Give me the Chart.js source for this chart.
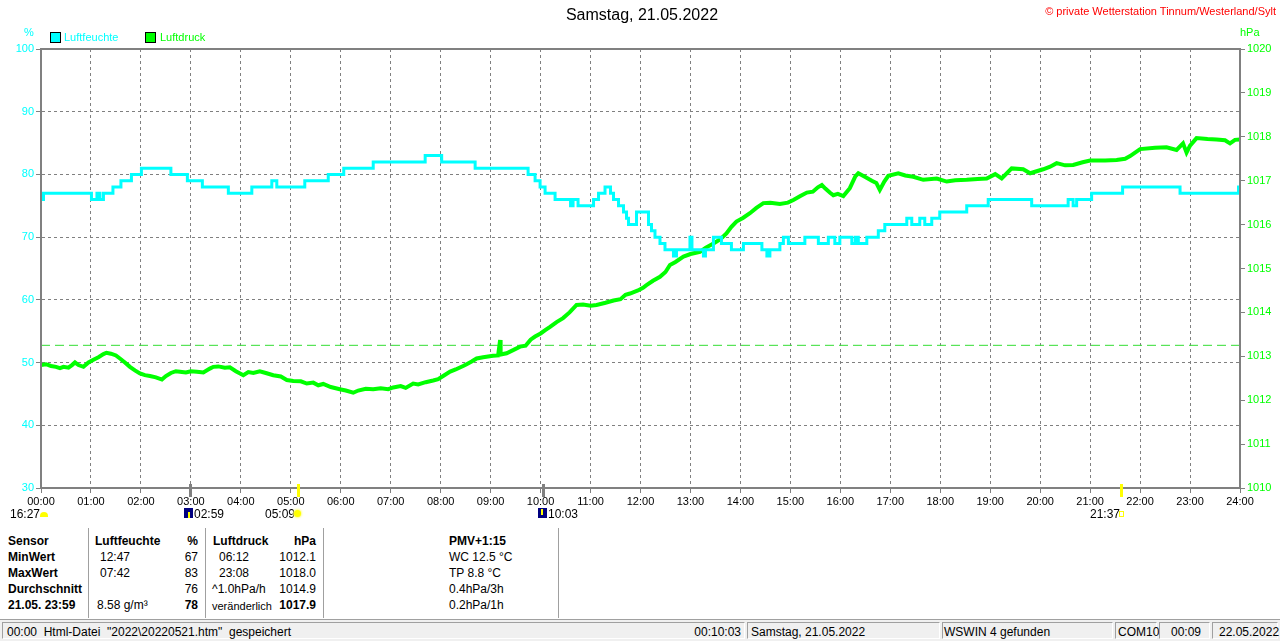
<!DOCTYPE html>
<html><head><meta charset="utf-8">
<script src="https://cdn.jsdelivr.net/npm/chart.js@4/dist/chart.umd.min.js"></script>
<style>
body{margin:0;background:#fff;width:1280px;height:641px;overflow:hidden;position:relative;font-family:"Liberation Sans",Arial,sans-serif;color:#000;}
#wrap{position:absolute;left:0;top:0;width:1280px;height:520px;}
.t{position:absolute;white-space:pre;line-height:12px;font-size:12px;}
.s11{font-size:11px;line-height:11px;}
.b{font-weight:bold;}
.box{position:absolute;width:9px;height:9px;border:1px solid #000;}
.sep{position:absolute;top:528px;height:90px;width:1px;background:#a0a0a0;border-right:1px solid #fff;}
#status{position:absolute;left:0;top:619px;width:1280px;height:22px;background:#f0f0f0;border-top:1px solid #a0a0a0;}
.pan{position:absolute;top:2px;height:17px;border-top:1px solid #a0a0a0;border-left:1px solid #a0a0a0;border-right:1px solid #fff;border-bottom:1px solid #fff;box-sizing:border-box;}
.pan span{position:absolute;top:3px;font-size:12px;line-height:12px;white-space:pre;}
</style></head><body>
<div id="wrap"><canvas id="c"></canvas></div>

<div class="t" style="left:2px;width:1280px;top:7px;text-align:center;font-size:16px;line-height:16px;">Samstag, 21.05.2022</div>
<div class="t s11" style="right:4px;top:6px;color:#ff0000;">© private Wetterstation Tinnum/Westerland/Sylt</div>

<div class="t s11" style="left:24px;top:27px;color:#00ffff;">%</div>
<div class="t s11" style="left:1240px;top:27px;color:#00ff00;">hPa</div>
<div class="box" style="left:50px;top:32px;background:#00ffff;"></div>
<div class="t s11" style="left:64px;top:32px;color:#00ffff;">Luftfeuchte</div>
<div class="box" style="left:145px;top:32px;background:#00ff00;"></div>
<div class="t s11" style="left:160px;top:32px;color:#00ff00;">Luftdruck</div>

<!-- sun / moon row -->
<div class="t" style="left:10px;top:508px;">16:27</div>
<div style="position:absolute;left:40px;top:512px;width:8px;height:5px;background:#ffff00;border-radius:4px 4px 0 0;"></div>
<div style="position:absolute;left:184px;top:508px;width:9px;height:10px;background:#000080;"></div>
<div style="position:absolute;left:188px;top:512px;width:2px;height:6px;background:#ffff00;"></div>
<div class="t" style="left:194px;top:508px;">02:59</div>
<div class="t" style="left:265px;top:508px;">05:09</div>
<div style="position:absolute;left:294px;top:510px;width:7px;height:7px;background:#ffff00;border-radius:50%;box-shadow:0 0 2px 1px #ffff80;"></div>
<div style="position:absolute;left:538px;top:508px;width:9px;height:10px;background:#000080;"></div>
<div style="position:absolute;left:541px;top:509px;width:2px;height:6px;background:#ffff00;"></div>
<div class="t" style="left:548px;top:508px;">10:03</div>
<div class="t" style="left:1090px;top:508px;">21:37</div>
<div style="position:absolute;left:1119px;top:511px;width:3px;height:4px;border:1px solid #ffff00;"></div>

<!-- table -->
<div class="sep" style="left:88px;"></div>
<div class="sep" style="left:205px;"></div>
<div class="sep" style="left:323px;"></div>
<div class="sep" style="left:558px;"></div>

<div class="t b" style="left:8px;top:535px;">Sensor</div>
<div class="t b" style="left:8px;top:551px;">MinWert</div>
<div class="t b" style="left:8px;top:567px;">MaxWert</div>
<div class="t b" style="left:8px;top:583px;">Durchschnitt</div>
<div class="t b" style="left:8px;top:599px;">21.05. 23:59</div>

<div class="t b" style="left:95px;top:535px;">Luftfeuchte</div>
<div class="t b" style="right:1082px;top:535px;">%</div>
<div class="t" style="left:100px;top:551px;">12:47</div>
<div class="t" style="right:1082px;top:551px;">67</div>
<div class="t" style="left:100px;top:567px;">07:42</div>
<div class="t" style="right:1082px;top:567px;">83</div>
<div class="t" style="right:1082px;top:583px;">76</div>
<div class="t" style="left:97px;top:599px;">8.58 g/m³</div>
<div class="t b" style="right:1082px;top:599px;">78</div>

<div class="t b" style="left:213px;top:535px;">Luftdruck</div>
<div class="t b" style="right:964px;top:535px;">hPa</div>
<div class="t" style="left:219px;top:551px;">06:12</div>
<div class="t" style="right:964px;top:551px;">1012.1</div>
<div class="t" style="left:219px;top:567px;">23:08</div>
<div class="t" style="right:964px;top:567px;">1018.0</div>
<div class="t" style="left:212px;top:583px;">^1.0hPa/h</div>
<div class="t" style="right:964px;top:583px;">1014.9</div>
<div class="t" style="left:212px;top:600px;font-size:11px;">veränderlich</div>
<div class="t b" style="right:964px;top:599px;">1017.9</div>

<div class="t b" style="left:449px;top:535px;">PMV+1:15</div>
<div class="t" style="left:449px;top:551px;">WC 12.5 °C</div>
<div class="t" style="left:449px;top:567px;">TP 8.8 °C</div>
<div class="t" style="left:449px;top:583px;">0.4hPa/3h</div>
<div class="t" style="left:449px;top:599px;">0.2hPa/1h</div>

<div id="status">
  <div class="pan" style="left:2px;width:743px;"><span style="left:4px;">00:00  Html-Datei  "2022\20220521.htm"  gespeichert</span><span style="right:3px;">00:10:03</span></div>
  <div class="pan" style="left:747px;width:193px;"><span style="left:3px;">Samstag, 21.05.2022</span></div>
  <div class="pan" style="left:942px;width:171px;"><span style="left:1px;">WSWIN 4 gefunden</span></div>
  <div class="pan" style="left:1115px;width:42px;"><span style="left:2px;">COM10</span></div>
  <div class="pan" style="left:1159px;width:51px;"><span style="left:11px;">00:09</span></div>
  <div class="pan" style="left:1212px;width:66px;"><span style="left:6px;">22.05.2022</span></div>
</div>

<script>
// ---- data ----
const hourTicks = [0,1,2,3,4,5,6,7,8,9,10,11,12,13,14,15,16,17,18,19,20,21,22,23,24];
const humidityTicks = [30,40,50,60,70,80,90,100];
const pressureTicks = [1010,1011,1012,1013,1014,1015,1016,1017,1018,1019,1020];

// humidity (%): hour of change, new value
const humTimes = [0,0.05,1.01,1.12,1.18,1.25,1.44,1.6,1.81,2.01,2.6,2.93,3.23,3.75,4.22,4.62,4.72,5.28,5.75,6.06,6.65,7.69,8.02,8.69,9.75,9.89,9.99,10.09,10.29,10.6,10.65,10.75,11.06,11.16,11.29,11.4,11.46,11.56,11.66,11.72,11.76,11.92,12.16,12.22,12.29,12.39,12.49,12.66,12.72,12.76,12.86,12.99,13.03,13.06,13.26,13.3,13.32,13.46,13.62,13.82,14.06,14.43,14.53,14.59,14.79,14.86,14.96,15.29,15.56,15.76,15.89,15.99,16.23,16.3,16.36,16.53,16.76,16.89,17.33,17.43,17.59,17.69,17.83,17.99,18.53,18.96,19.83,20.56,20.66,20.73,21.03,21.65,22.8,23.97,24];
const humValues = [76,77,76,77,76,77,78,79,80,81,80,79,78,77,78,79,78,79,80,81,82,83,82,81,80,79,78,77,76,75,76,75,76,77,78,77,76,75,74,73,72,74,72,71,70,69,68,67,68,68,68,70,68,68,67,68,68,70,69,68,69,68,67,68,69,70,69,70,69,70,69,70,69,70,69,70,71,72,73,72,73,72,73,74,75,76,75,76,75,76,77,78,77,78,78];

// air pressure (hPa)
const presTimes = [0,0.1,0.2,0.3,0.38,0.45,0.55,0.62,0.68,0.75,0.85,0.95,1.05,1.15,1.25,1.31,1.4,1.5,1.58,1.68,1.78,1.88,1.98,2.08,2.18,2.3,2.42,2.5,2.6,2.7,2.78,2.9,3,3.12,3.25,3.38,3.45,3.55,3.68,3.78,3.9,4.05,4.15,4.25,4.38,4.5,4.65,4.8,4.92,5.05,5.2,5.32,5.45,5.55,5.65,5.8,5.98,6.1,6.25,6.35,6.5,6.65,6.8,6.95,7.05,7.2,7.3,7.45,7.55,7.7,7.85,7.95,8.05,8.19,8.3,8.45,8.52,8.62,8.72,8.85,9.05,9.15,9.19,9.2,9.32,9.45,9.59,9.7,9.8,9.89,10,10.1,10.19,10.32,10.45,10.58,10.72,10.85,11,11.12,11.3,11.46,11.6,11.7,11.79,11.95,12.05,12.12,12.25,12.39,12.5,12.59,12.7,12.86,13,13.19,13.3,13.46,13.6,13.72,13.82,13.92,14.05,14.19,14.32,14.46,14.6,14.79,14.95,15.06,15.2,15.33,15.45,15.55,15.63,15.7,15.8,15.86,15.95,16.06,16.19,16.3,16.36,16.49,16.63,16.72,16.79,16.88,16.96,17.16,17.3,17.46,17.66,17.93,18.13,18.3,18.53,18.75,18.93,19.1,19.23,19.43,19.66,19.8,20.06,20.2,20.33,20.5,20.66,20.85,21,21.3,21.53,21.7,21.8,21.9,22,22.3,22.53,22.73,22.86,22.93,23,23.13,23.35,23.53,23.7,23.8,23.9,24];
const presValues = [1012.80,1012.82,1012.78,1012.76,1012.73,1012.76,1012.74,1012.80,1012.86,1012.80,1012.76,1012.86,1012.92,1012.98,1013.05,1013.08,1013.06,1013.02,1012.95,1012.86,1012.76,1012.68,1012.61,1012.57,1012.55,1012.52,1012.47,1012.55,1012.62,1012.66,1012.65,1012.63,1012.66,1012.65,1012.63,1012.72,1012.76,1012.77,1012.74,1012.75,1012.66,1012.57,1012.64,1012.62,1012.66,1012.62,1012.57,1012.54,1012.46,1012.44,1012.43,1012.38,1012.40,1012.34,1012.37,1012.30,1012.25,1012.22,1012.17,1012.22,1012.26,1012.25,1012.27,1012.25,1012.29,1012.32,1012.28,1012.38,1012.36,1012.41,1012.45,1012.48,1012.55,1012.65,1012.70,1012.78,1012.82,1012.88,1012.95,1012.98,1013.01,1013.02,1013.37,1013.04,1013.07,1013.14,1013.22,1013.24,1013.38,1013.45,1013.52,1013.60,1013.67,1013.78,1013.87,1014.00,1014.17,1014.18,1014.15,1014.17,1014.22,1014.27,1014.30,1014.40,1014.43,1014.50,1014.56,1014.62,1014.72,1014.81,1014.92,1015.08,1015.15,1015.27,1015.33,1015.38,1015.47,1015.57,1015.67,1015.80,1015.95,1016.07,1016.15,1016.26,1016.38,1016.49,1016.50,1016.47,1016.50,1016.56,1016.65,1016.73,1016.75,1016.85,1016.90,1016.82,1016.72,1016.67,1016.70,1016.65,1016.83,1017.10,1017.17,1017.09,1017.00,1016.95,1016.79,1016.98,1017.11,1017.17,1017.12,1017.09,1017.02,1017.05,1016.98,1017.01,1017.02,1017.04,1017.05,1017.15,1017.05,1017.28,1017.26,1017.17,1017.26,1017.32,1017.40,1017.35,1017.36,1017.42,1017.46,1017.46,1017.47,1017.50,1017.56,1017.64,1017.72,1017.75,1017.76,1017.70,1017.85,1017.64,1017.80,1017.97,1017.95,1017.94,1017.92,1017.85,1017.93,1017.94];

const referencePressure = 1013.25;
const eventTimes = [2+59/60, 5+9/60, 10+3/60, 21+37/60];
const eventKinds = ['moon','sun','moon','sun'];

const pad2 = n => String(n).padStart(2,'0');
const hum = humTimes.map((t,i)=>({x:t,y:humValues[i]}));
const pres = presTimes.map((t,i)=>({x:t,y:presValues[i]}));
const ref = [{x:hourTicks[0],y:referencePressure},{x:hourTicks[hourTicks.length-1],y:referencePressure}];

Chart.defaults.font.family = '"Liberation Sans", Arial, sans-serif';
Chart.defaults.font.size = 11;

const framePlugin = {
  id:'frame',
  afterDatasetsDraw(chart){
    const {ctx, chartArea:a, scales} = chart;
    ctx.save();
    ctx.strokeStyle = '#808080';
    ctx.lineWidth = 2;
    ctx.strokeRect(a.left, a.top, a.right-a.left, a.bottom-a.top);
    eventTimes.forEach((t,i)=>{
      const x = Math.round(scales.x.getPixelForValue(t));
      ctx.fillStyle = eventKinds[i]==='sun' ? '#ffff00' : '#808080';
      ctx.fillRect(x-1, a.bottom-4, 3, 13);
    });
    ctx.restore();
  }
};

new Chart(document.getElementById('c'), {
  type:'line',
  data:{
    datasets:[
      {label:'Luftfeuchte', data:hum, yAxisID:'y', borderColor:'#00ffff', backgroundColor:'#00ffff', borderWidth:3, pointRadius:0, stepped:true, order:0},
      {label:'Luftdruck', data:pres, yAxisID:'y1', borderColor:'#00ff00', backgroundColor:'#00ff00', borderWidth:4, pointRadius:0, tension:0, borderJoinStyle:'miter', order:1},
      {label:'1013.25', data:ref, yAxisID:'y1', borderColor:'#33dd33', borderWidth:1, borderDash:[9,5], pointRadius:0, order:2}
    ]
  },
  options:{
    responsive:true, maintainAspectRatio:false, animation:false,
    layout:{padding:{top:49,left:0,right:0,bottom:0}},
    plugins:{legend:{display:false}, title:{display:false}, tooltip:{enabled:false}},
    scales:{
      x:{type:'linear', min:0, max:24, position:'bottom',
         afterBuildTicks:s=>{s.ticks = hourTicks.map(v=>({value:v}));},
         afterFit:s=>{s.height = 32;},
         ticks:{color:'#000', autoSkip:false, maxRotation:0, padding:2, callback:v=>pad2(v)+':00', font:{size:11}},
         grid:{color:'#808080', lineWidth:1, tickLength:5, tickColor:'#808080', tickBorderDash:[]},
         border:{color:'#808080', width:2, dash:[3,3]}},
      y:{type:'linear', min:30, max:100, position:'left',
         afterBuildTicks:s=>{s.ticks = humidityTicks.map(v=>({value:v}));},
         afterFit:s=>{s.width = 41;},
         ticks:{color:'#00ffff', padding:2, font:{size:11}, callback:v=>String(v)},
         grid:{color:'#808080', lineWidth:1, tickLength:5, tickColor:'#808080', tickBorderDash:[]},
         border:{color:'#808080', width:2, dash:[3,3]}},
      y1:{type:'linear', min:1010, max:1020, position:'right',
         afterBuildTicks:s=>{s.ticks = pressureTicks.map(v=>({value:v}));},
         afterFit:s=>{s.width = 40;},
         ticks:{color:'#00ff00', padding:2, font:{size:11}, callback:v=>String(v)},
         grid:{drawOnChartArea:false, color:'#808080', tickLength:5, tickColor:'#808080'},
         border:{color:'#808080', width:2}}
    }
  },
  plugins:[framePlugin]
});
</script>
</body></html>
